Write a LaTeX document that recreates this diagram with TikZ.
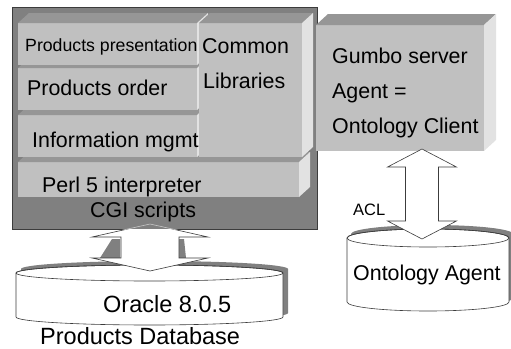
\documentclass[tikz,border=0pt]{standalone}
\usepackage{fontspec}
\setmainfont{Liberation Sans}
\usetikzlibrary{calc}

\definecolor{boxdark}{RGB}{128,128,128}
\definecolor{facefront}{RGB}{192,192,192}
\definecolor{facetop}{RGB}{150,150,150}
\definecolor{faceside}{RGB}{226,226,226}
\definecolor{edgedark}{RGB}{60,60,60}
\definecolor{edgelight}{RGB}{200,200,200}

% top and right faces of an extruded block node: #1 name, #2/#3 depth offset
\newcommand\blockdepth[3]{%
  \fill[facetop] (#1.north west) -- ++(#2,#3) -- ($(#1.north east)+(#2,#3)$) -- (#1.north east) -- cycle;
  \fill[faceside] (#1.north east) -- ++(#2,#3) -- ($(#1.south east)+(#2,#3)$) -- (#1.south east) -- cycle;}

% cylinder outline: #1 centre x, #2 top y, #3 bottom y, #4 x radius, #5 y radius
\newcommand\cylbody[5]{%
  (#1-#4,#2) -- (#1-#4,#3) arc[start angle=180, end angle=0, x radius=#4, y radius=#5]
  -- (#1+#4,#2) arc[start angle=0, end angle=-180, x radius=#4, y radius=#5] -- cycle}

% vertical block double arrow between two coordinates:
% #1 top tip, #2 bottom tip, #3 half head width, #4 half shaft width, #5 head length
\newcommand\dblarrow[5]{%
  (#1) -- ($(#1)+(#3,#5)$) -- ($(#1)+(#4,#5)$) -- ($(#2)+(#4,-#5)$) -- ($(#2)+(#3,-#5)$)
  -- (#2) -- ($(#2)+(-#3,-#5)$) -- ($(#2)+(-#4,-#5)$) -- ($(#1)+(-#4,#5)$) -- ($(#1)+(-#3,#5)$) -- cycle}

\begin{document}
\begin{tikzpicture}[x=1pt,y=-1pt,
  blockfront/.style={fill=facefront, draw=none, inner sep=0pt, outer sep=0pt, anchor=north west},
  txt/.style={font=\fontsize{21.4}{24}\selectfont, inner sep=0pt, anchor=base west},
  smalltxt/.style={font=\fontsize{17.7}{20}\selectfont, inner sep=0pt, anchor=base west},
  acltxt/.style={font=\fontsize{16.5}{19}\selectfont, inner sep=0pt, anchor=base west},
  bigtxt/.style={font=\fontsize{23.5}{26}\selectfont, inner sep=0pt, anchor=base west},
  arrowbody/.style={draw=edgedark, fill=white, line width=0.6pt, line join=miter},
  cylshadow/.style={fill=boxdark, draw=none},
  cylbodystyle/.style={draw=edgedark, fill=white, line width=0.6pt}]

\useasboundingbox (0,0) rectangle (511,348);

% ---- web server box ----
\node[draw=edgedark, fill=boxdark, line width=0.6pt, minimum width=305pt, minimum height=222pt,
      inner sep=0pt, outer sep=0pt, anchor=north west] (cgi) at (12,7) {};

\node[blockfront, minimum width=281pt, minimum height=35pt] (perl) at (18,162) {};
\blockdepth{perl}{11}{-10}
\node[blockfront, minimum width=179pt, minimum height=42pt] (info) at (18,115) {};
\blockdepth{info}{11}{-10}
\node[blockfront, minimum width=179pt, minimum height=42pt] (order) at (18,68) {};
\blockdepth{order}{11}{-10}
\node[blockfront, minimum width=179pt, minimum height=42pt] (pres) at (18,23) {};
\blockdepth{pres}{11}{-10}
\node[blockfront, minimum width=103pt, minimum height=134pt] (common) at (199,23) {};
\blockdepth{common}{11}{-10}

\node[smalltxt] (tpres) at (25,51.5) {Products presentation};
\node[txt] (torder) at (27,95) {Products order};
\node[txt] (tinfo) at (32,147) {Information mgmt};
\node[txt] (tcommon) at (202,53) {Common};
\node[txt] (tlib) at (203,88) {Libraries};
\node[txt] (tperl) at (42,192) {Perl 5 interpreter};
\node[txt] (tcgi) at (90,217.5) {CGI scripts};

% ---- agent box ----
\node[blockfront, minimum width=168pt, minimum height=126pt] (gumbo) at (316,25) {};
\blockdepth{gumbo}{12}{-11}
\node[txt] (tgumbo) at (332,63) {Gumbo server};
\node[txt] (tagent) at (332,98) {Agent =};
\node[txt] (tclient) at (332,133) {Ontology Client};

% ---- database cylinder ----
\fill[cylshadow] [shift={(5,-4)}] \cylbody{149.5}{273}{317}{133.5}{8};
\path[cylbodystyle] \cylbody{149.5}{273}{317}{133.5}{8};
\draw[edgedark, line width=0.6pt] (149.5,273) ellipse[x radius=133.5, y radius=8];
\node[bigtxt] (toracle) at (103,312) {Oracle 8.0.5};
\node[bigtxt] (tdb) at (40,344) {Products Database};

% ---- ontology agent cylinder ----
\fill[cylshadow] [shift={(4,-4)}] \cylbody{428}{238}{302}{81}{9};
\path[cylbodystyle] \cylbody{428}{238}{302}{81}{9};
\draw[edgedark, line width=0.6pt] (428,238) ellipse[x radius=81, y radius=9];
\node[txt] (tonto) at (353,280) {Ontology Agent};

% ---- connector: CGI scripts <-> database ----
\coordinate (sqltop) at (150,224);
\coordinate (sqlbot) at (150,271);
\fill[boxdark] (112,239) -- (120,239) -- (120,258) -- (100,258) -- cycle;
\fill[boxdark] (178,239) -- (184,239) -- (186,258) -- (178,258) -- cycle;
\begin{scope}
  \clip (cgi.south west) rectangle (511,348);
  \path[arrowbody] \dblarrow{sqltop}{sqlbot}{58}{29}{13};
\end{scope}
\begin{scope}
  \clip (cgi.south west) rectangle (cgi.north east);
  \draw[edgelight, line width=0.6pt] \dblarrow{sqltop}{sqlbot}{58}{29}{13};
\end{scope}

% ---- connector: agent <-> ontology agent (ACL) ----
\coordinate (acltop) at (422,149);
\coordinate (aclbot) at (422,239);
\path[arrowbody] \dblarrow{acltop}{aclbot}{34.5}{16.5}{18};
\node[acltxt] (tacl) at (353,215) {ACL};

\end{tikzpicture}
\end{document}
